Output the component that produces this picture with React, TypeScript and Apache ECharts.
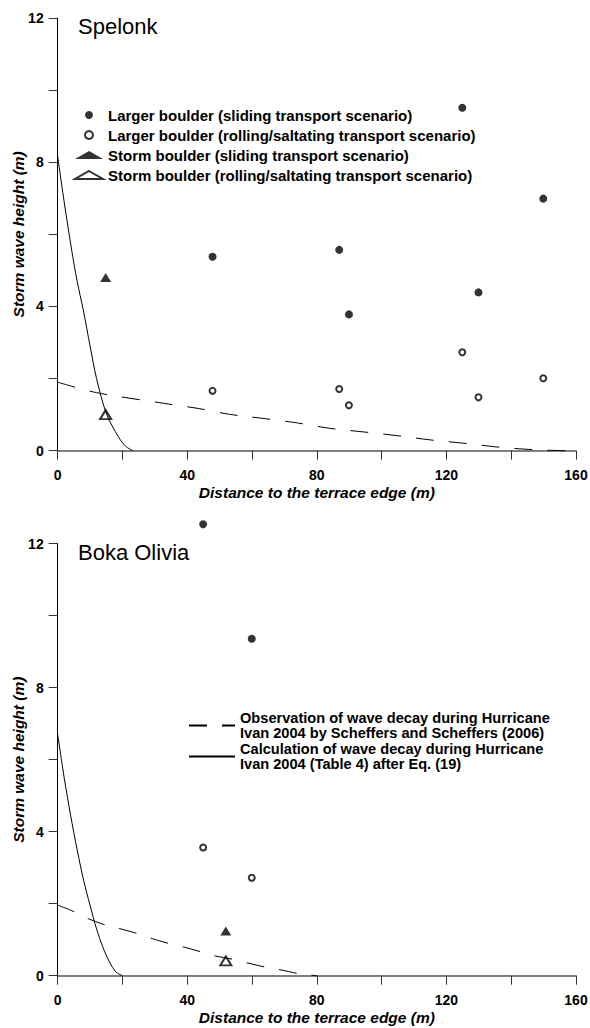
import React, { useEffect, useRef } from "react";
import * as echarts from "echarts";

// ---------- Data ----------
const nameLargeSlide = "Larger boulder (sliding transport scenario)";
const nameLargeRoll = "Larger boulder (rolling/saltating transport scenario)";
const nameStormSlide = "Storm boulder (sliding transport scenario)";
const nameStormRoll = "Storm boulder (rolling/saltating transport scenario)";
const nameObs = "Observation of wave decay during Hurricane\nIvan 2004 by Scheffers and Scheffers (2006)";
const nameCalc = "Calculation of wave decay during Hurricane\nIvan 2004 (Table 4) after Eq. (19)";

const panelTitles = ["Spelonk", "Boka Olivia"];
const xTicks = [0, 40, 80, 120, 160];
const yTicks = [0, 4, 8, 12];

// Spelonk
const spLargeX = [47.8, 86.9, 89.9, 124.9, 129.9, 149.9];
const spLargeSlideY = [5.38, 5.57, 3.78, 9.51, 4.39, 6.99];
const spLargeRollY = [1.66, 1.71, 1.26, 2.73, 1.48, 2.01];
const spStormX = [14.8];
const spStormSlideY = [4.8];
const spStormRollY = [1.0];
const spObsX = [0, 12, 33, 43.5, 53, 63, 74, 84, 94.5, 104.5, 115, 125, 136, 146.5, 157];
const spObsY = [1.9, 1.61, 1.31, 1.17, 1.01, 0.9, 0.77, 0.62, 0.52, 0.42, 0.3, 0.21, 0.1, 0.03, 0];
const spCalcX = [0, 2, 4.3, 6, 7.9, 10, 12, 15.1, 18.7, 21, 23.3];
const spCalcY = [8.16, 6.9, 5.57, 4.7, 3.9, 2.9, 2.0, 1.01, 0.39, 0.12, 0];

// Boka Olivia
const boLargeX = [44.9, 59.9];
const boLargeSlideY = [12.54, 9.36];
const boLargeRollY = [3.56, 2.72];
const boStormX = [51.9];
const boStormSlideY = [1.24];
const boStormRollY = [0.41];
const boObsX = [0, 4.5, 9, 14, 18.6, 23.9, 28.5, 33.7, 38.8, 44, 48.6, 53.8, 58.8, 64, 69, 74.8, 80];
const boObsY = [1.96, 1.8, 1.6, 1.43, 1.32, 1.19, 1.05, 0.91, 0.8, 0.67, 0.55, 0.46, 0.35, 0.24, 0.16, 0.05, 0];
const boCalcX = [0, 2, 4, 6, 8, 10, 12, 14, 16, 18, 20];
const boCalcY = [6.7, 5.5, 4.45, 3.5, 2.65, 1.95, 1.3, 0.78, 0.38, 0.1, 0];

const zip = (xs: number[], ys: number[]) => xs.map((x, i) => [x, ys[i]]);

const FONT = "'Liberation Sans', Arial, Helvetica, sans-serif";

export default function App() {
  const ref = useRef<HTMLDivElement>(null);
  useEffect(() => {
    document.body.style.margin = "0";
    const chart = echarts.init(ref.current!, null, { renderer: "svg" });

    const grids = [
      { left: 57.7, right: 14, top: 18, height: 432.7, outerBoundsMode: "none", containLabel: false },
      { left: 57.7, right: 14, top: 543.7, height: 432, outerBoundsMode: "none", containLabel: false },
    ];

    const nameStyle = {
      fontFamily: FONT,
      fontSize: 15.5,
      fontWeight: "bold",
      fontStyle: "italic",
      color: "#000",
    };

    const tickStyle = { show: true, inside: false, length: 9, lineStyle: { color: "#333", width: 1, opacity: 1 } };

    const xAxisFor = (i: number) => ({
      type: "value",
      gridIndex: i,
      min: 0,
      max: 160,
      interval: 20,
      name: "Distance to the terrace edge (m)",
      nameLocation: "middle",
      nameGap: 34,
      nameTextStyle: nameStyle,
      axisLine: { show: true, onZero: false, lineStyle: { color: "#555", width: 1.5 } },
      axisTick: tickStyle,
      axisLabel: {
        show: true,
        margin: 17,
        fontFamily: FONT,
        fontSize: 14,
        fontWeight: "bold",
        color: "#000",
        formatter: (v: number) => (xTicks.includes(v) ? String(v) : ""),
      },
      splitLine: { show: false },
    });

    const yAxisFor = (i: number) => ({
      type: "value",
      gridIndex: i,
      min: 0,
      max: 12,
      interval: 2,
      name: "Storm wave height (m)",
      nameLocation: "middle",
      nameGap: 31,
      nameMoveOverlap: false,
      nameTextStyle: nameStyle,
      axisLine: { show: true, onZero: false, lineStyle: { color: "#000", width: 1 } },
      axisTick: tickStyle,
      axisLabel: {
        show: true,
        margin: 14,
        fontFamily: FONT,
        fontSize: 14,
        fontWeight: "bold",
        color: "#000",
        formatter: (v: number) => (yTicks.includes(v) ? String(v) : ""),
      },
      splitLine: { show: false },
    });

    const panels = [
      {
        lx: spLargeX, ls: spLargeSlideY, lr: spLargeRollY,
        sx: spStormX, ss: spStormSlideY, sr: spStormRollY,
        ox: spObsX, oy: spObsY, cx: spCalcX, cy: spCalcY,
      },
      {
        lx: boLargeX, ls: boLargeSlideY, lr: boLargeRollY,
        sx: boStormX, ss: boStormSlideY, sr: boStormRollY,
        ox: boObsX, oy: boObsY, cx: boCalcX, cy: boCalcY,
      },
    ];

    const series: any[] = [];
    panels.forEach((p, i) => {
      const common = { xAxisIndex: i, yAxisIndex: i, clip: false };
      series.push(
        {
          ...common,
          type: "line",
          name: nameObs,
          data: zip(p.ox, p.oy),
          showSymbol: false,
          symbol: "none",
          smooth: 0.3,
          lineStyle: { color: "#000", width: 1, type: [18, 15] },
          itemStyle: { color: "#000", opacity: 0 },
        },
        {
          ...common,
          type: "line",
          name: nameCalc,
          data: zip(p.cx, p.cy),
          showSymbol: false,
          symbol: "none",
          smooth: 0.3,
          lineStyle: { color: "#000", width: 1 },
          itemStyle: { color: "#000", opacity: 0 },
        },
        {
          ...common,
          type: "scatter",
          name: nameLargeSlide,
          data: zip(p.lx, p.ls),
          symbol: "circle",
          symbolSize: 8,
          itemStyle: { color: "#000" },
        },
        {
          ...common,
          type: "scatter",
          name: nameLargeRoll,
          data: zip(p.lx, p.lr),
          symbol: "emptyCircle",
          symbolSize: 6,
          itemStyle: { color: "#000", borderColor: "#000", borderWidth: 2 },
        },
        {
          ...common,
          type: "scatter",
          name: nameStormSlide,
          data: zip(p.sx, p.ss),
          symbol: "triangle",
          symbolSize: [11, 9],
          itemStyle: { color: "#000" },
        },
        {
          ...common,
          type: "scatter",
          name: nameStormRoll,
          data: zip(p.sx, p.sr),
          symbol: "emptyTriangle",
          symbolSize: [11, 9],
          itemStyle: { color: "#000", borderColor: "#000", borderWidth: 1 },
        }
      );
    });

    chart.setOption({
      animation: false,
      backgroundColor: "#fff",
      textStyle: { fontFamily: FONT },
      title: [
        {
          text: panelTitles[0],
          left: 78,
          top: 15,
          padding: 0,
          textStyle: { fontFamily: FONT, fontSize: 22, fontWeight: "normal", color: "#000" },
        },
        {
          text: panelTitles[1],
          left: 78,
          top: 541,
          padding: 0,
          textStyle: { fontFamily: FONT, fontSize: 22, fontWeight: "normal", color: "#000" },
        },
      ],
      legend: [
        {
          orient: "vertical",
          left: 74,
          top: 107,
          padding: 0,
          itemWidth: 28,
          itemHeight: 8,
          itemGap: 4,
          data: [nameLargeSlide, nameLargeRoll, nameStormSlide, nameStormRoll],
          textStyle: { fontFamily: FONT, fontSize: 15, fontWeight: "bold", color: "#000", lineHeight: 16 },
          selectedMode: false,
        },
        {
          orient: "vertical",
          left: 188,
          top: 710,
          padding: 0,
          itemWidth: 46,
          itemHeight: 8,
          itemGap: 0,
          data: [nameObs, nameCalc],
          textStyle: { fontFamily: FONT, fontSize: 14.6, fontWeight: "bold", color: "#000", lineHeight: 15.5 },
          selectedMode: false,
        },
      ],
      grid: grids,
      xAxis: [xAxisFor(0), xAxisFor(1)],
      yAxis: [yAxisFor(0), yAxisFor(1)],
      series,
    });

    return () => chart.dispose();
  }, []);

  return <div ref={ref} style={{ width: 590, height: 1028 }} />;
}
